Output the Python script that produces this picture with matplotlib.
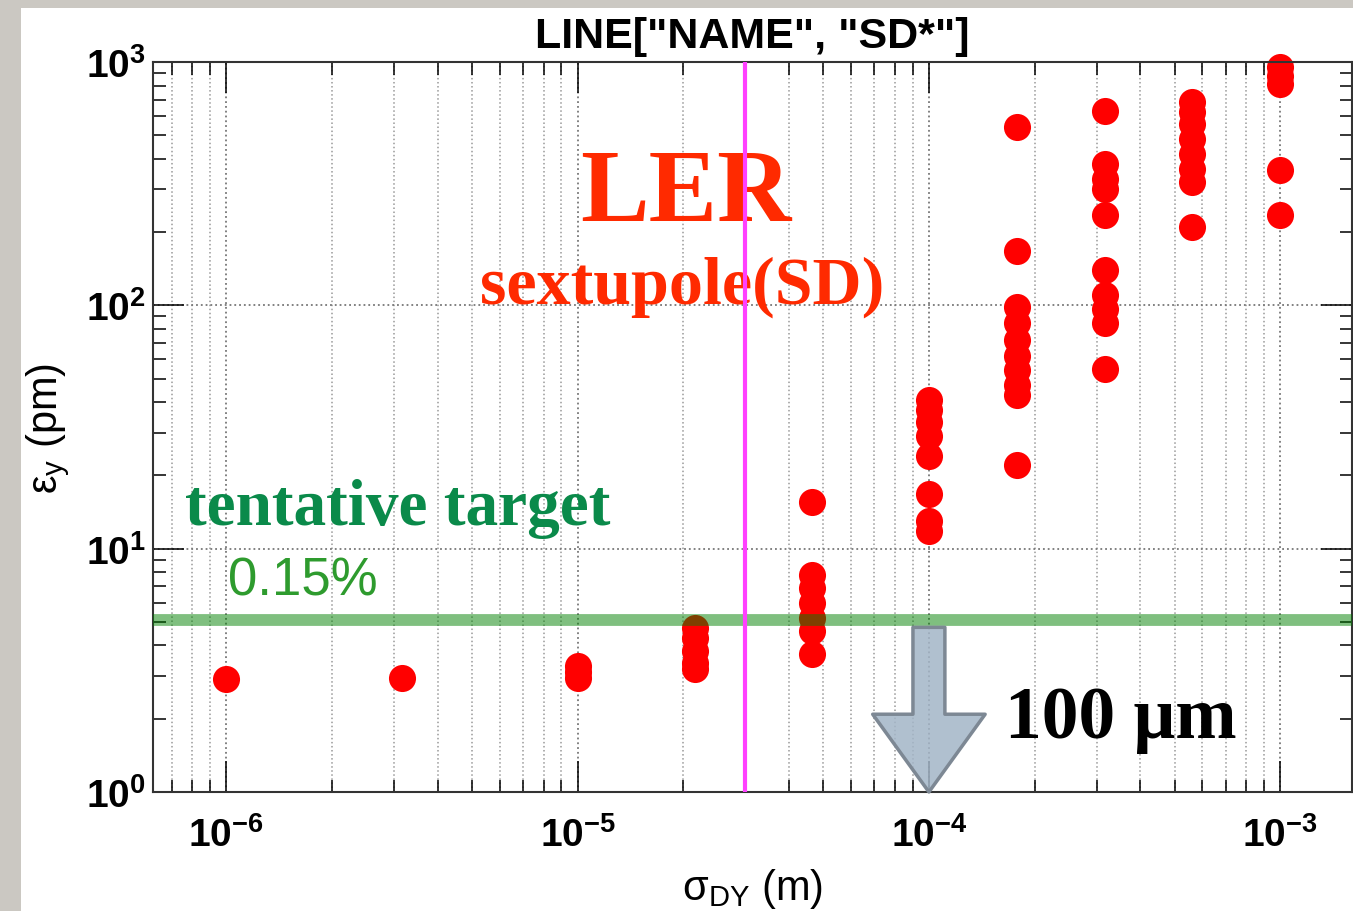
import matplotlib
matplotlib.use('Agg')
import matplotlib.pyplot as plt
from matplotlib.patches import Rectangle
from matplotlib.ticker import FixedLocator, FixedFormatter, NullFormatter, LogLocator

plt.rcParams['mathtext.fontset'] = 'custom'
plt.rcParams['mathtext.rm'] = 'Liberation Sans'
plt.rcParams['mathtext.bf'] = 'Liberation Sans:bold'
plt.rcParams['font.family'] = ['Liberation Sans', 'DejaVu Sans']

# scan values: sigma_DY (m) -> vertical emittance (pm) for each seed
sigma_1e6 = [2.9]
sigma_3e6 = [2.95]
sigma_1e5 = [2.95, 3.1, 3.3]
sigma_2e5 = [3.2, 3.4, 3.8, 4.3, 4.7]
sigma_5e5 = [3.7, 4.6, 5.2, 6.0, 6.9, 7.8, 15.5]
sigma_1e4 = [11.8, 13.0, 16.8, 24.0, 29.0, 33.0, 37.0, 41.0]
sigma_2e4 = [22.0, 43.0, 47.0, 54.0, 62.0, 72.0, 85.0, 98.0, 168.0, 540.0]
sigma_3e4 = [55.0, 85.0, 97.0, 110.0, 140.0, 235.0, 300.0, 330.0, 380.0, 630.0]
sigma_6e4 = [210.0, 322.0, 364.0, 419.0, 483.0, 557.0, 624.0, 685.0]
sigma_1e3 = [235.0, 360.0, 813.0, 880.0, 955.0]

sigma_dy = [1e-6, 10**-5.5, 1e-5, 10**(-14/3), 10**(-13/3),
            1e-4, 10**-3.75, 10**-3.5, 10**-3.25, 1e-3]
emittance = [sigma_1e6, sigma_3e6, sigma_1e5, sigma_2e5, sigma_5e5,
             sigma_1e4, sigma_2e4, sigma_3e4, sigma_6e4, sigma_1e3]

target_pm = 5.1        # tentative target, 0.15 %
marker_sigma = 3e-5    # vertical marker line
arrow_sigma = 1e-4     # 100 um

x_ticks = [1e-6, 1e-5, 1e-4, 1e-3]
x_tick_labels = [r'$\mathbf{10^{-6}}$', r'$\mathbf{10^{-5}}$',
                 r'$\mathbf{10^{-4}}$', r'$\mathbf{10^{-3}}$']
y_ticks = [1, 10, 100, 1000]
y_tick_labels = [r'$\mathbf{10^{0}}$', r'$\mathbf{10^{1}}$',
                 r'$\mathbf{10^{2}}$', r'$\mathbf{10^{3}}$']

fig = plt.figure(figsize=(13.53, 9.12), dpi=100, facecolor='#cbc8c2')
fig.patches.append(Rectangle((21 / 1353, 0), 1 - 21 / 1353, 1 - 9 / 912,
                             transform=fig.transFigure, facecolor='white',
                             edgecolor='none', zorder=-10))

ax = fig.add_axes([153 / 1353, 1 - 793 / 912, 1199 / 1353, 730 / 912])
ax.set_xscale('log')
ax.set_yscale('log')
ax.set_xlim(6.19e-7, 1.6e-3)
ax.set_ylim(1, 1000)

for x, ys in zip(sigma_dy, emittance):
    ax.plot([x] * len(ys), ys, 'o', color='#ff0000', ms=19.5, mec='none',
            zorder=2, clip_on=False)

ax.axhline(target_pm, color='green', alpha=0.5, lw=8.5, zorder=3)
ax.axvline(marker_sigma, color='#ff40ff', lw=3, zorder=5)

ax.annotate('', xy=(arrow_sigma, 1.0), xytext=(arrow_sigma, 4.75),
            arrowprops=dict(arrowstyle='simple,head_length=5.6,head_width=8.1,tail_width=2.3',
                            mutation_scale=10, fc=(0.64, 0.71, 0.78, 0.85),
                            ec='#7d8894', lw=2.5, shrinkA=0, shrinkB=0),
            annotation_clip=False, zorder=6)

ax.xaxis.set_major_locator(FixedLocator(x_ticks))
ax.xaxis.set_major_formatter(FixedFormatter(x_tick_labels))
ax.yaxis.set_major_locator(FixedLocator(y_ticks))
ax.yaxis.set_major_formatter(FixedFormatter(y_tick_labels))
ax.xaxis.set_minor_locator(LogLocator(base=10, subs=range(2, 10), numticks=20))
ax.yaxis.set_minor_locator(LogLocator(base=10, subs=range(2, 10), numticks=20))
ax.xaxis.set_minor_formatter(NullFormatter())
ax.yaxis.set_minor_formatter(NullFormatter())

ax.tick_params(which='both', direction='in', top=True, right=True, width=1.1)
ax.tick_params(which='major', length=22, labelsize=28)
ax.tick_params(which='minor', length=9)
ax.tick_params(axis='x', which='major', pad=17)
ax.tick_params(axis='y', which='major', pad=5)
for s in ax.spines.values():
    s.set_linewidth(1.5)
    s.set_color('#333333')

ax.set_axisbelow(True)
ax.grid(True, which='major', ls=':', color='#777777', lw=1.3)
ax.grid(True, which='minor', axis='x', ls=':', color='#999999', lw=1.1)

ax.set_title('LINE["NAME", "SD*"]', fontsize=31, fontweight='bold', pad=11)
ax.set_xlabel(r'$\mathrm{σ_{DY}}$ (m)', fontsize=30, labelpad=9)
ax.set_ylabel(r'$\mathrm{ε_{y}}$ (pm)', fontsize=30, labelpad=10)

ax.text(0.4445, 0.783, 'LER', transform=ax.transAxes, ha='center', va='baseline',
        fontsize=74, color='#ff2a00', family='Liberation Serif',
        fontweight='bold', zorder=4)
ax.text(0.441, 0.671, 'sextupole(SD)', transform=ax.transAxes, ha='center',
        va='baseline', fontsize=49, color='#ff2a00', family='Liberation Serif',
        fontweight='bold', zorder=4)
ax.text(0.0267, 0.367, 'tentative target', transform=ax.transAxes, ha='left',
        va='baseline', fontsize=47, color='#0a8a4a', family='Liberation Serif',
        fontweight='bold', zorder=4)
ax.text(0.0626, 0.270, '0.15%', transform=ax.transAxes, ha='left', va='baseline',
        fontsize=38, color='#2e9b2e', zorder=4)
ax.text(0.7106, 0.0753, '100 μm', transform=ax.transAxes, ha='left', va='baseline',
        fontsize=53, color='black', family='Liberation Serif', fontweight='bold',
        zorder=7)

fig.savefig('out.png', dpi=100, facecolor=fig.get_facecolor())
